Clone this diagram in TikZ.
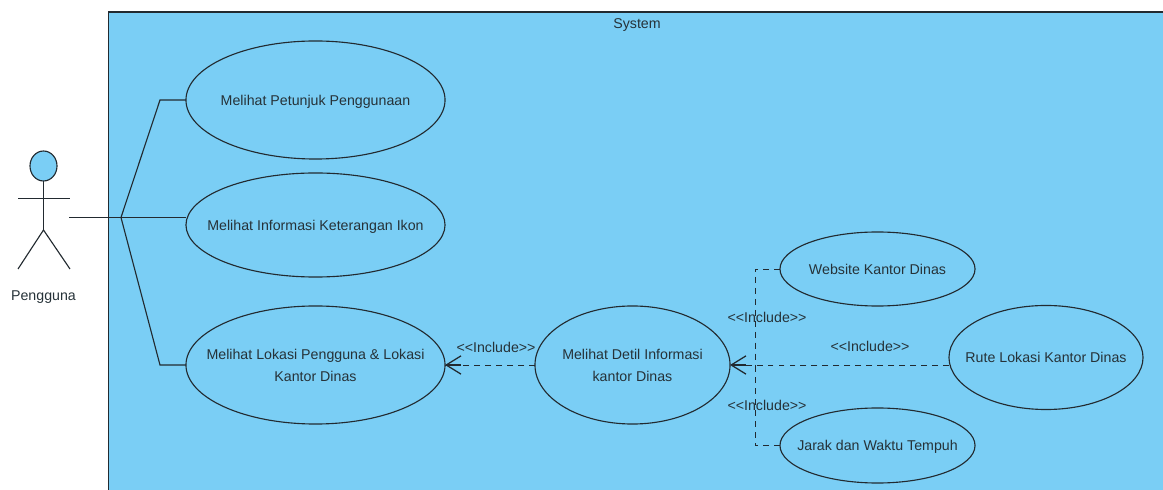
\documentclass[tikz,border=0pt]{standalone}
\usepackage{fontspec}
\setmainfont{Liberation Sans}
\usepackage{xcolor}
\usetikzlibrary{arrows.meta, shapes.geometric}
\definecolor{sysblue}{HTML}{7ACEF5}
\definecolor{umlline}{HTML}{222A30}
\definecolor{umltext}{HTML}{263238}
\tikzset{
    usecase/.style={draw=umlline, ellipse, line width=0.8pt, inner sep=0pt, outer sep=0pt},
    casetext/.style={align=center, inner sep=0pt, text height=7.4pt, text depth=0pt, font=\fontsize{10.1}{15.6}\selectfont, text=umltext},
    umllabel/.style={font=\fontsize{10.1}{12}\selectfont, text height=7.4pt, text depth=0pt, text=umltext, inner sep=0pt},
    assoc/.style={draw=umlline, line width=0.8pt},
    includeline/.style={draw=umlline, line width=0.7pt, dash pattern=on 4.2pt off 3.6pt},
    includehead/.style={draw=umlline, line width=0.9pt, {Straight Barb[length=10.5pt, width=13pt]}-},
}
\begin{document}
\begin{tikzpicture}[x=0.025cm, y=-0.025cm]
    \useasboundingbox (0, 0) rectangle (1163, 490);
    % System box
    \fill [sysblue] (108.5, 12) rectangle (1163, 490);
    \draw [umlline, line width=0.8pt] (1163, 12) -- (108.5, 12) -- (108.5, 490);
    \node [umllabel] (system) at (637, 23) {System};
    % Actor
    \node [usecase, fill=sysblue, minimum width=0.675cm, minimum height=0.75cm] (head) at (43.5, 166) {};
    \coordinate (hip) at (43.5, 230);
    \coordinate (armL) at (18, 198.5);
    \coordinate (armR) at (70, 198.5);
    \coordinate (footL) at (18, 269);
    \coordinate (footR) at (70, 269);
    \draw [assoc] (head.south) -- (hip);
    \draw [assoc] (armL) -- (armR);
    \draw [assoc] (footL) -- (hip) -- (footR);
    \node [umllabel] (pengguna) at (43.5, 295) {Pengguna};
    % Use cases
    \node [usecase, minimum width=6.475cm, minimum height=2.95cm] (petunjuk) at (315.5, 100) {};
    \node [usecase, minimum width=6.475cm, minimum height=2.6cm] (ikon) at (315.5, 225) {};
    \node [usecase, minimum width=6.475cm, minimum height=2.95cm] (lokasi) at (315.5, 365) {};
    \node [usecase, minimum width=4.875cm, minimum height=2.95cm] (detil) at (632.5, 365) {};
    \node [usecase, minimum width=4.875cm, minimum height=1.85cm] (website) at (877.5, 269) {};
    \node [usecase, minimum width=4.85cm, minimum height=2.6cm] (rute) at (1046, 357.5) {};
    \node [usecase, minimum width=4.875cm, minimum height=1.875cm] (jarak) at (877.5, 445.5) {};
    % Use case texts
    \node [casetext] (petunjukText) at (petunjuk) {Melihat Petunjuk Penggunaan};
    \node [casetext] (ikonText) at (ikon) {Melihat Informasi Keterangan Ikon};
    \node [casetext] (lokasiText) at (315.5, 376) {Melihat Lokasi Pengguna \& Lokasi\\Kantor Dinas};
    \node [casetext] (detilText) at (632.5, 376) {Melihat Detil Informasi\\kantor Dinas};
    \node [casetext] (websiteText) at (website) {Website Kantor Dinas};
    \node [casetext] (ruteText) at (rute) {Rute Lokasi Kantor Dinas};
    \node [casetext] (jarakText) at (jarak) {Jarak dan Waktu Tempuh};
    % Associations
    \coordinate (actorEnd) at (69, 217.5);
    \coordinate (fork) at (121, 217.5);
    \coordinate (bendTop) at (160, 100);
    \coordinate (bendBottom) at (160, 365);
    \draw [assoc] (actorEnd) -- (fork) -- (ikon.west |- fork);
    \draw [assoc] (fork) -- (bendTop) -- (petunjuk.west);
    \draw [assoc] (fork) -- (bendBottom) -- (lokasi.west);
    % Includes
    \coordinate (busTop) at (755, 269);
    \coordinate (busBottom) at (755, 445.5);
    \coordinate (busMid) at (755, 365);
    \draw [includeline] (website.west) -- (busTop) -- (busMid);
    \draw [includeline] (jarak.west) -- (busBottom) -- (busMid);
    \draw [includeline] (rute.west |- detil.east) -- (detil.east);
    \draw [includeline] (detil.west) -- (lokasi.east);
    \draw [includehead] (detil.east) -- ++(16, 0);
    \draw [includehead] (lokasi.east) -- ++(16, 0);
    % Labels
    \node [umllabel] (inclA) at (496, 347) {<{}<Include>{}>};
    \node [umllabel] (inclB) at (767, 317) {<{}<Include>{}>};
    \node [umllabel] (inclC) at (870, 346) {<{}<Include>{}>};
    \node [umllabel] (inclD) at (767, 405) {<{}<Include>{}>};
\end{tikzpicture}
\end{document}
